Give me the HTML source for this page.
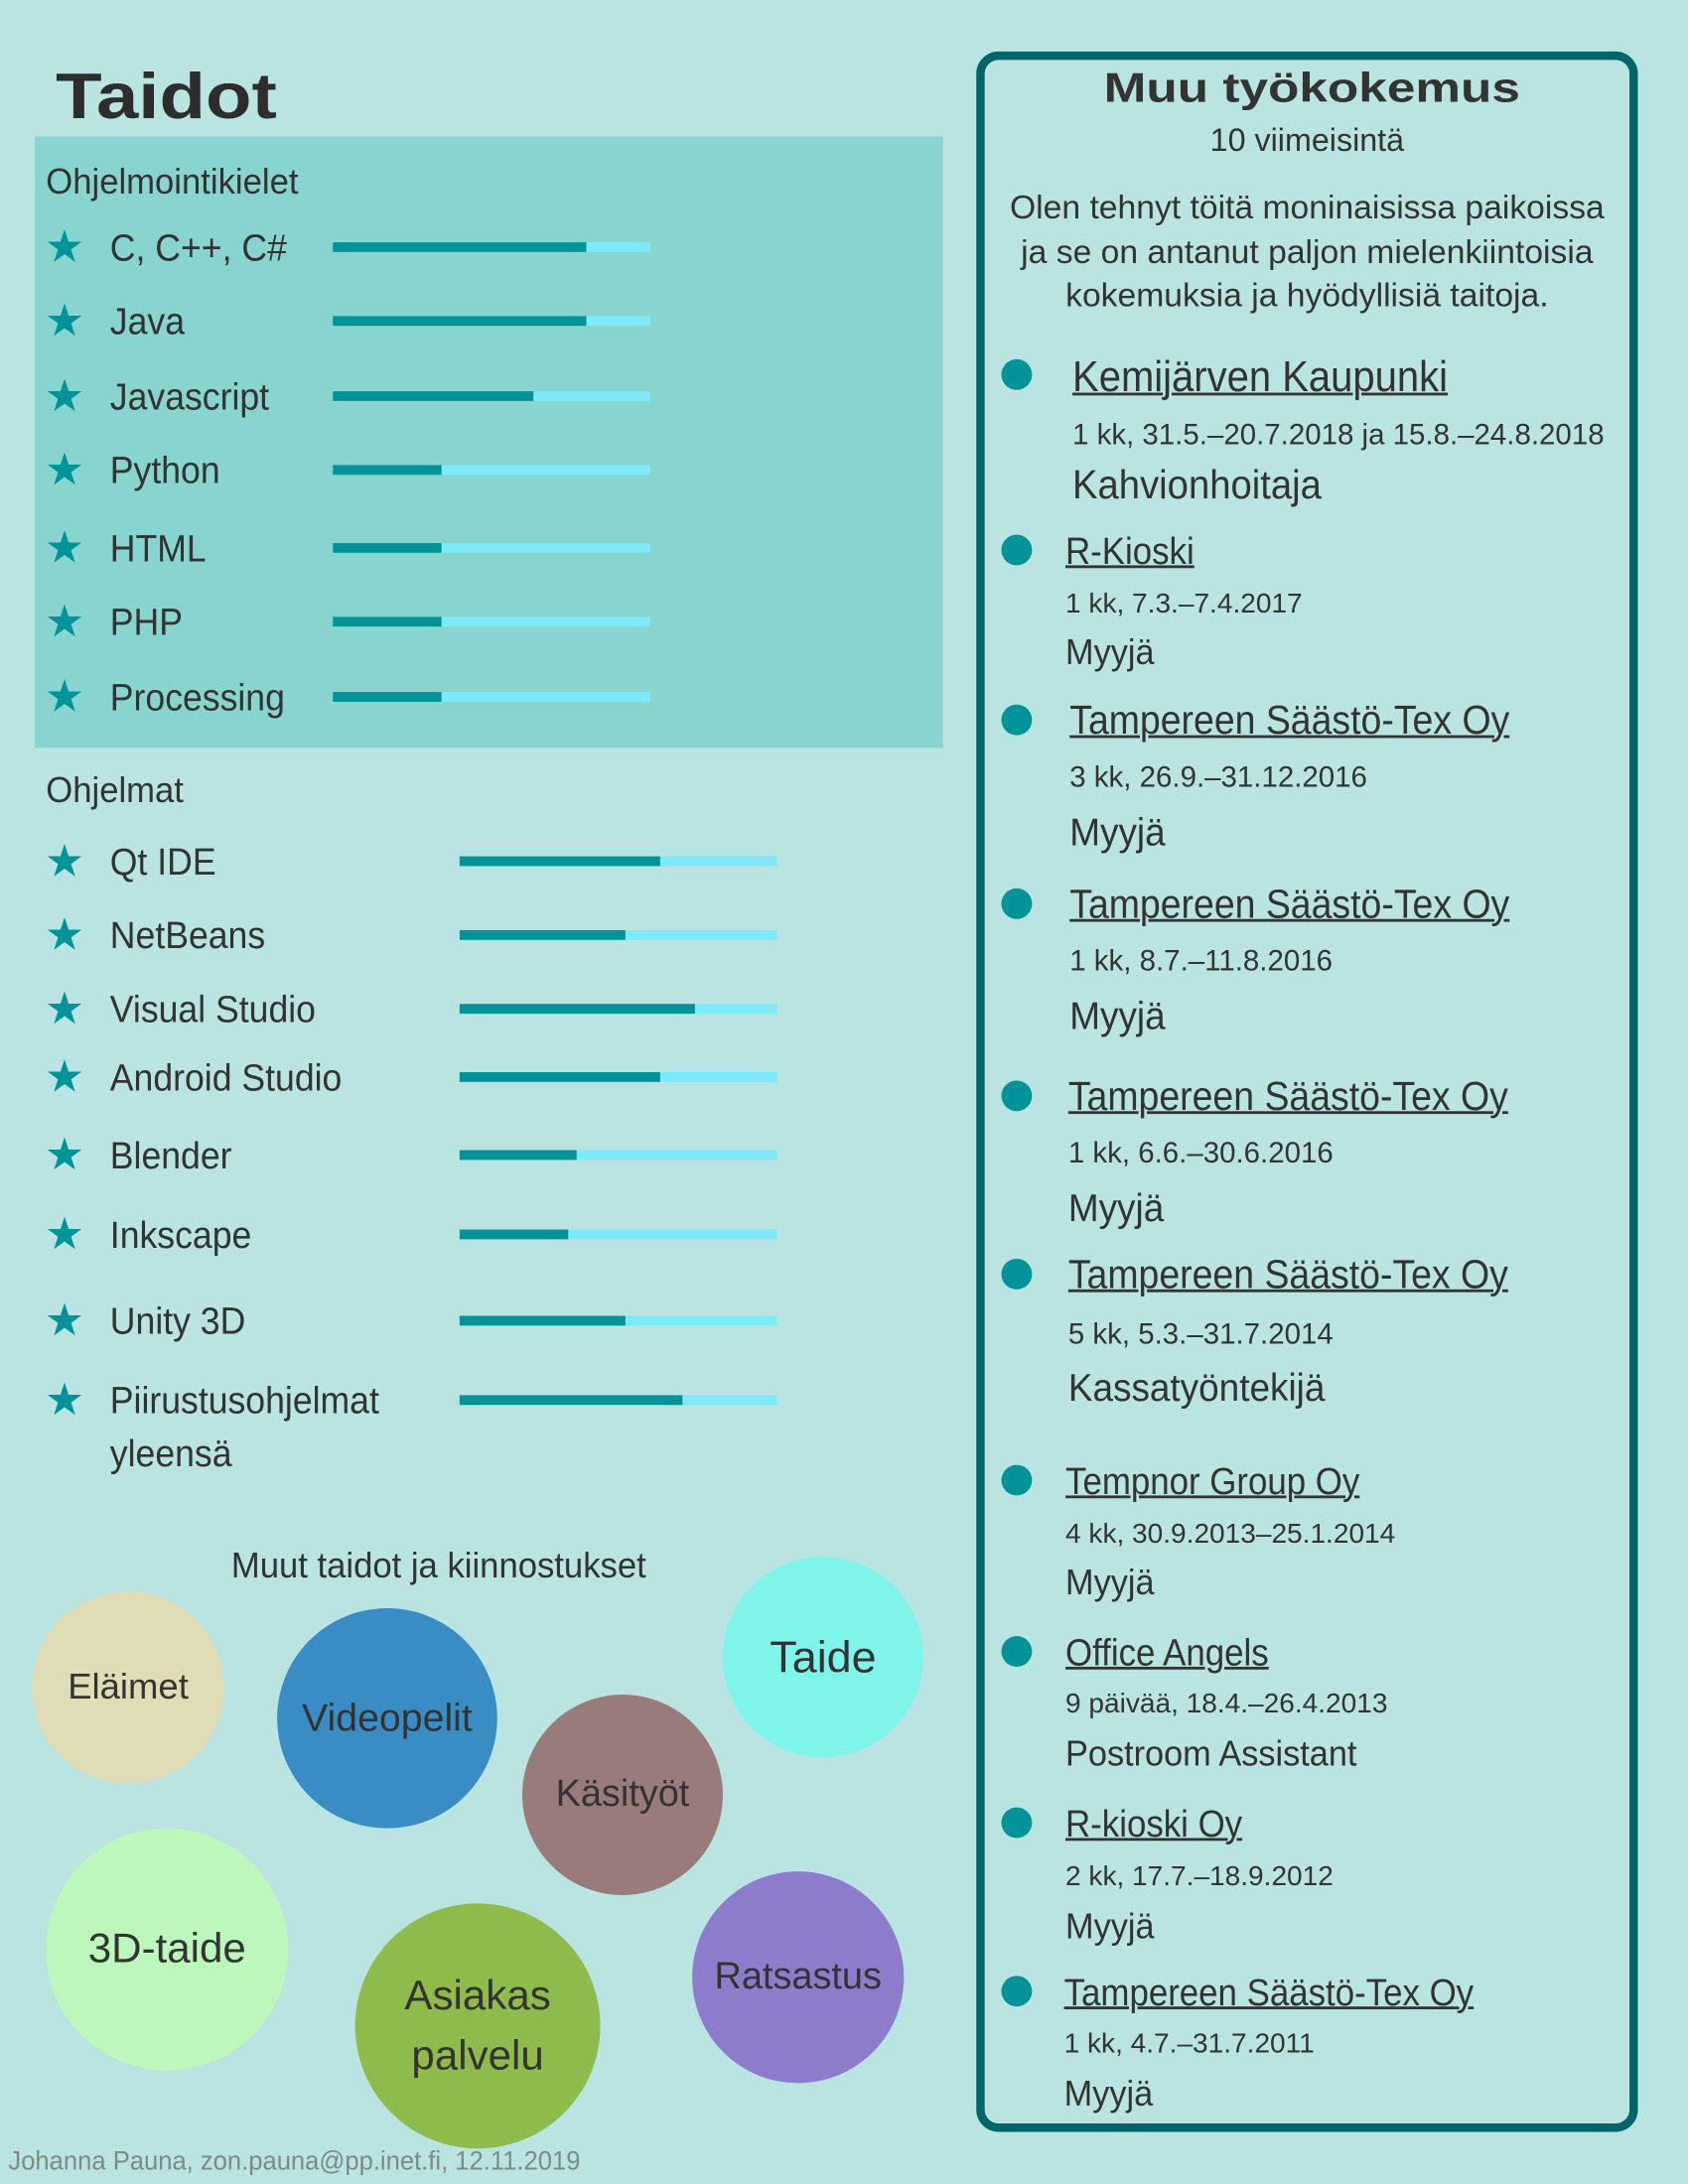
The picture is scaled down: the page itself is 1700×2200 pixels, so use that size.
<!DOCTYPE html>
<html><head><meta charset="utf-8">
<style>
html,body{margin:0;padding:0;}
body{width:1700px;height:2200px;overflow:hidden;background:#b9e4e1;}
#wrap{position:absolute;left:0;top:0;width:1212px;height:1568px;transform:scale(1.40264);transform-origin:0 0;background:#b9e4e1;
font-family:"Liberation Sans Narrow","Liberation Sans",sans-serif;color:#333;}
.a{position:absolute;white-space:nowrap;line-height:1;}
.t{transform:translateY(-50%);}
.circ{position:absolute;border-radius:50%;display:flex;align-items:center;justify-content:center;text-align:center;font-family:"Liberation Sans",sans-serif;color:#333;line-height:1.45;}
</style></head><body>
<div id="wrap">
<div class="a" style="left:40px;top:42px;font:bold 46px 'Liberation Sans',sans-serif;color:#2d2d2d;transform:scaleX(1.18);transform-origin:0 0;">Taidot</div>
<div class="a" style="left:25px;top:98px;width:652px;height:439px;background:#88d4ce;"></div>
<div class="a" style="left:33px;top:117px;font-size:26px;transform:scaleX(0.95);transform-origin:0 0;">Ohjelmointikielet</div>
<div class="a" style="left:33px;top:554px;font-size:26px;transform:scaleX(0.95);transform-origin:0 0;">Ohjelmat</div>
<div class="a" style="left:166px;top:1111px;font-size:26px;transform:scaleX(0.95);transform-origin:0 0;">Muut taidot ja kiinnostukset</div>
<div id="skills"></div>
<div id="circles"></div>
<div class="a" style="left:6px;top:1543px;font-size:19px;color:#7c8b8a;transform:scaleX(0.96);transform-origin:0 0;">Johanna Pauna, zon.pauna@pp.inet.fi, 12.11.2019</div>

<div class="a" style="left:701px;top:37px;width:463px;height:1482px;border:6px solid #006569;border-radius:16px;"></div>
<div class="a" style="left:942px;top:47px;font:bold 30px 'Liberation Sans',sans-serif;transform:translateX(-50%) scaleX(1.22);">Muu työkokemus</div>
<div class="a t" style="left:701px;width:475px;text-align:center;top:101px;font-size:23px;">10 viimeisintä</div>
<div class="a" style="left:701px;width:475px;text-align:center;top:134px;font-size:24px;line-height:31.5px;white-space:normal;">Olen tehnyt töitä moninaisissa paikoissa<br>ja se on antanut paljon mielenkiintoisia<br>kokemuksia ja hyödyllisiä taitoja.</div>
<div id="jobs"></div>
</div>
<script>
const langNames=["C, C++, C#","Java","Javascript","Python","HTML","PHP","Processing"];
const langLevels=[0.80,0.80,0.63,0.34,0.34,0.34,0.34];
const progNames=["Qt IDE","NetBeans","Visual Studio","Android Studio","Blender","Inkscape","Unity 3D","Piirustusohjelmat"];
const progLevels=[0.63,0.52,0.74,0.63,0.37,0.34,0.52,0.70];
const interestNames=["Eläimet","Videopelit","Taide","Käsityöt","3D-taide","Asiakas<br>palvelu","Ratsastus"];
const jobCompanies=["Kemijärven Kaupunki","R-Kioski","Tampereen Säästö-Tex Oy","Tampereen Säästö-Tex Oy","Tampereen Säästö-Tex Oy","Tampereen Säästö-Tex Oy","Tempnor Group Oy","Office Angels","R-kioski Oy","Tampereen Säästö-Tex Oy"];
const jobDates=["1 kk, 31.5.–20.7.2018 ja 15.8.–24.8.2018","1 kk, 7.3.–7.4.2017","3 kk, 26.9.–31.12.2016","1 kk, 8.7.–11.8.2016","1 kk, 6.6.–30.6.2016","5 kk, 5.3.–31.7.2014","4 kk, 30.9.2013–25.1.2014","9 päivää, 18.4.–26.4.2013","2 kk, 17.7.–18.9.2012","1 kk, 4.7.–31.7.2011"];
const jobRoles=["Kahvionhoitaja","Myyjä","Myyjä","Myyjä","Myyjä","Kassatyöntekijä","Myyjä","Postroom Assistant","Myyjä","Myyjä"];

const langY=[177,230,284,337,393,446,500];
const progY=[618,671,724,773,829,886,948,1005];
const BARW=228;
function el(parent,html,style,name,inter){
  const d=document.createElement('div');d.className='a';d.innerHTML=html;d.style.cssText=style;
  
  
  parent.appendChild(d);return d;
}
const S=document.getElementById('skills');
function row(name,lvl,y,barX,i,kind,extra){
  el(S,'★','left:32px;top:'+(y-16)+'px;font-size:32px;color:#00939a;font-family:"DejaVu Sans",sans-serif;',kind+'-star',false);
  el(S,name,'left:79px;top:'+(y-12)+'px;font-size:27px;transform:scaleX(0.94);transform-origin:0 0;',kind+'-label',false);
  if(extra) el(S,extra,'left:79px;top:'+(y+26)+'px;font-size:27px;transform:scaleX(0.94);transform-origin:0 0;',kind+'-label-2',false);
  el(S,'','left:'+barX+'px;top:'+(y-3.5)+'px;width:'+BARW+'px;height:7px;background:#7de9fb;',kind+'-bar-track',false);
  el(S,'','left:'+barX+'px;top:'+(y-3.5)+'px;width:'+(BARW*lvl)+'px;height:7px;background:#00939a;',kind+'-bar-level',false);
}
langNames.forEach((n,i)=>row(n,langLevels[i],langY[i],239,i,'language'));
progNames.forEach((n,i)=>row(n,progLevels[i],progY[i],330,i,'program',i==7?'yleensä':null));

const C=document.getElementById('circles');
const cx=[92,278,591,447,120,343,573],cy=[1209,1231,1187,1286,1397,1452,1417],cr=[69,79,72,72,87,88,76];
const cc=["#e0dcb5","#3a8cc4","#7ff5e9","#9a7b7b","#bcf7bb","#8fbb4d","#8d7ccb"];
const cf=[26,28,32,27,30,30,27];
interestNames.forEach((n,i)=>{
  const d=el(C,n,'',"interest-bubble",false);
  d.className='circ';
  d.style.cssText='left:'+(cx[i]-cr[i])+'px;top:'+(cy[i]-cr[i]+3)+'px;width:'+(2*cr[i])+'px;height:'+(2*cr[i])+'px;background:'+cc[i]+';font-size:'+cf[i]+'px;';
});

const J=document.getElementById('jobs');
const jy=[269,395,517,649,787,915,1063,1186,1309,1430];
const jd=[312,433,558,690,828,958,1101,1223,1347,1467];
const jr=[348,466,596,728,866,995,1134,1257,1381,1501];
const jx=[770,765,768,768,767,767,765,765,765,764];
const cs=[31,27,29,29,29,29,27,27,27,27];
const rs=[29,26,28,28,28,28,26,26,26,26];
const ds=[21,20,21,21,21,21,20,20,20,20];
jobCompanies.forEach((n,i)=>{
  el(J,'','left:719px;top:'+(jy[i]-11)+'px;width:22px;height:22px;border-radius:50%;background:#00939a;','job-bullet',false);
  el(J,n,'left:'+jx[i]+'px;top:'+(jy[i]-cs[i]*0.55+3)+'px;font-size:'+cs[i]+'px;text-decoration:underline;text-decoration-thickness:2px;transform:scaleX(0.92);transform-origin:0 0;','job-company',true);
  el(J,jobDates[i],'left:'+jx[i]+'px;top:'+(jd[i]-ds[i]*0.55+2)+'px;font-size:'+ds[i]+'px;','job-dates',false);
  el(J,jobRoles[i],'left:'+jx[i]+'px;top:'+(jr[i]-rs[i]*0.55+3)+'px;font-size:'+rs[i]+'px;transform:scaleX(0.94);transform-origin:0 0;','job-role',false);
});
</script>
</body></html>
